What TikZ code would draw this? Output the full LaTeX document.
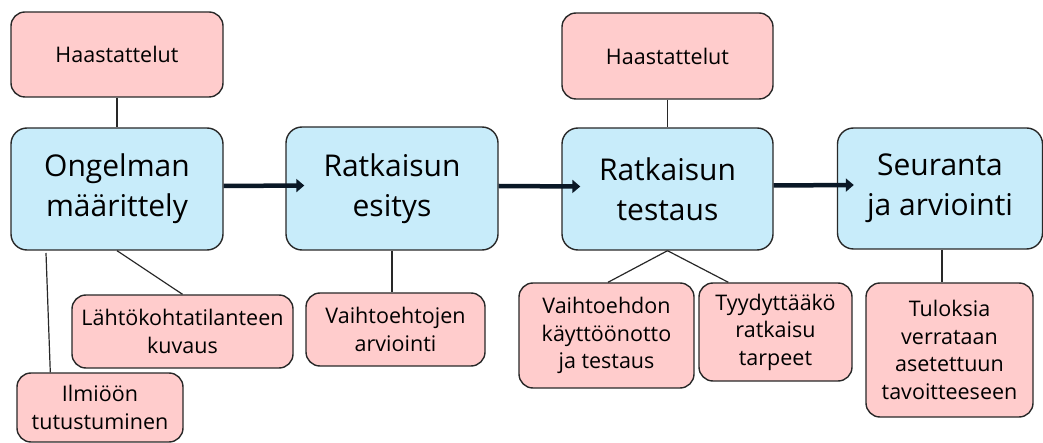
\documentclass[tikz,border=0pt]{standalone}
\usepackage{fontspec}
\setmainfont{Open Sans}
\usetikzlibrary{arrows.meta}
\definecolor{boxblue}{RGB}{200,236,250}
\definecolor{boxpink}{RGB}{255,204,204}
\definecolor{edgegray}{RGB}{40,40,40}
\definecolor{arrowdark}{RGB}{10,24,38}
\tikzset{
  mainbox/.style={draw=edgegray, line width=1.4pt, fill=boxblue, rounded corners=16pt,
    inner sep=0pt, align=center, font=\fontsize{30}{40}\selectfont},
  subbox/.style={draw=edgegray, line width=1.4pt, fill=boxpink, rounded corners=14pt,
    inner sep=0pt, align=center, font=\fontsize{21.5}{27.5}\selectfont},
  link/.style={draw=edgegray, line width=1.2pt},
  flow/.style={draw=arrowdark, line width=4.5pt, -{Triangle[length=8pt,width=13pt]}}
}
\begin{document}
\begin{tikzpicture}[x=1pt,y=-1pt]
\useasboundingbox (0,0) rectangle (1043,443);
% main boxes
\node[mainbox, minimum width=212pt, minimum height=122pt] (b1) at (117,189) {Ongelman\\määrittely};
\node[mainbox, minimum width=212pt, minimum height=123pt] (b2) at (392,188.5) {Ratkaisun\\esitys};
\node[mainbox, minimum width=211pt, minimum height=122pt] (b3) at (667.5,189) {Ratkaisun\\testaus};
\node[mainbox, minimum width=205pt, minimum height=121pt] (b4) at (940,188.5) {Seuranta\\ja arviointi};
% sub boxes
\node[subbox, minimum width=212pt, minimum height=85pt] (h1) at (117,54.5) {Haastattelut};
\node[subbox, minimum width=221pt, minimum height=73pt] (l1) at (182.5,331.5) {Lähtökohtatilanteen\\kuvaus};
\node[subbox, minimum width=166pt, minimum height=69pt] (i1) at (100,407.5) {Ilmiöön\\tutustuminen};
\node[subbox, minimum width=179pt, minimum height=73pt] (v1) at (395.5,329.5) {Vaihtoehtojen\\arviointi};
\node[subbox, minimum width=211pt, minimum height=86pt] (h2) at (667.5,56) {Haastattelut};
\node[subbox, minimum width=175pt, minimum height=105pt] (v2) at (606.5,335.5) {Vaihtoehdon\\käyttöönotto\\ja testaus};
\node[subbox, minimum width=153pt, minimum height=98pt] (t1) at (775.5,332) {Tyydyttääkö\\ratkaisu\\tarpeet};
\node[subbox, minimum width=167pt, minimum height=134pt] (t2) at (949.5,350) {Tuloksia\\verrataan\\asetettuun\\tavoitteeseen};
% connectors
\coordinate (c1) at (46,253);
\draw[link] (h1.south) -- (b1.north);
\draw[link] (b1.south) -- (l1.north);
\draw[link] (c1) -- ([xshift=34pt]i1.north west);
\draw[link] (b2.south) -- (b2.south |- v1.north);
\draw[link] (h2.south) -- (b3.north);
\draw[link] (b3.south) -- ([xshift=1.5pt]v2.north);
\draw[link] (b3.south) -- ([xshift=30pt]t1.north west);
\draw[link] ([xshift=2pt]b4.south) -- ([xshift=2pt]b4.south |- t2.north);
% flow arrows
\draw[flow] ([yshift=3pt]b1.east) -- ([xshift=19pt,yshift=3pt]b2.west);
\draw[flow] ([yshift=2.5pt]b2.east) -- ([xshift=19pt,yshift=2.5pt]b3.west);
\draw[flow] ([yshift=3.5pt]b3.east) -- ([xshift=17pt,yshift=3.5pt]b4.west);
\end{tikzpicture}
\end{document}
